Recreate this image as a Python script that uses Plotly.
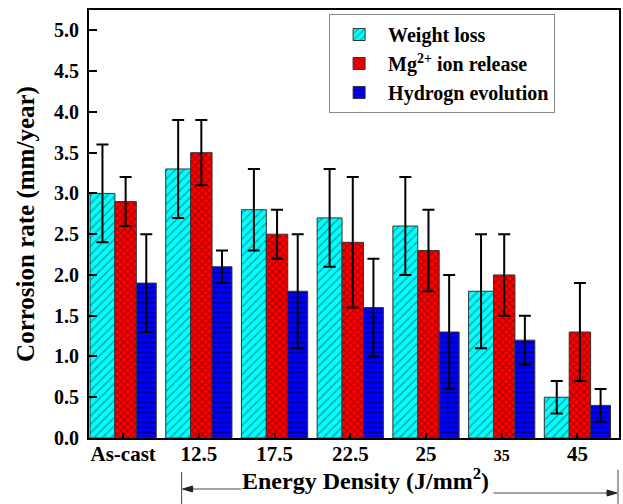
import plotly.graph_objects as go

categories = ["As-cast", "12.5", "17.5", "22.5", "25", "35", "45"]
tick_labels = ["As-cast", "12.5", "17.5", "22.5", "25", "<span style='font-size:16px'>35</span>", "45"]

weight_loss = [3.0, 3.3, 2.8, 2.7, 2.6, 1.8, 0.5]
weight_loss_err = [0.6, 0.6, 0.5, 0.6, 0.6, 0.7, 0.2]

mg_release = [2.9, 3.5, 2.5, 2.4, 2.3, 2.0, 1.3]
mg_release_err = [0.3, 0.4, 0.3, 0.8, 0.5, 0.5, 0.6]

hydrogen = [1.9, 2.1, 1.8, 1.6, 1.3, 1.2, 0.4]
hydrogen_err = [0.6, 0.2, 0.7, 0.6, 0.7, 0.3, 0.2]

xpos = list(range(len(categories)))
FONT = "Liberation Serif"

# plot-area pixel geometry
L, R, T, B = 89, 621, 10, 438
def px(x):
    return (x - L) / (R - L)
def py(y):
    return (B - y) / (B - T)

def bar(name, vals, errs, color, fg, shape, size, sol, offset, width):
    return go.Bar(
        x=xpos, y=vals, name=name, offset=offset, width=width,
        marker=dict(
            color=color,
            line=dict(color="#333333", width=1),
            pattern=dict(shape=shape, bgcolor=color, fgcolor=fg, size=size, solidity=sol),
        ),
        error_y=dict(type="data", array=errs, visible=True, color="black", thickness=2, width=6),
    )

fig = go.Figure()
fig.add_trace(bar("Weight loss", weight_loss, weight_loss_err, "#00FFFF", "#1a5050", "/", 6, 0.25, -0.4375, 0.329))
fig.add_trace(bar("Mg<sup>2+</sup> ion release", mg_release, mg_release_err, "#FF0000", "#300000", "x", 5, 0.35, -0.1086, 0.283))
fig.add_trace(bar("Hydrogn evolution", hydrogen, hydrogen_err, "#0000FF", "#000020", "-", 5, 0.3, 0.1743, 0.263))

fig.update_layout(
    width=623, height=504,
    margin=dict(l=L, r=623 - R, t=T, b=504 - B),
    barmode="overlay",
    plot_bgcolor="white", paper_bgcolor="white",
    font=dict(family=FONT, color="black", weight="bold"),
    legend=dict(
        x=px(330), y=py(14), xanchor="left", yanchor="top",
        bgcolor="white", bordercolor="#888888", borderwidth=1,
        font=dict(family=FONT, size=20, color="black", weight="bold"),
        itemwidth=48,
    ),
    xaxis=dict(
        range=[-0.4507, 6.549], tickvals=xpos, ticktext=tick_labels,
        ticks="inside", ticklen=5, tickwidth=1.5, tickcolor="black",
        showline=True, linecolor="black", linewidth=2, mirror=True,
        showgrid=False, zeroline=False,
        tickfont=dict(family=FONT, size=21, weight="bold"),
        ticklabelstandoff=-4,
    ),
    yaxis=dict(
        range=[0, 5.25], tickvals=[0, 0.5, 1, 1.5, 2, 2.5, 3, 3.5, 4, 4.5, 5],
        ticktext=["0.0", "0.5", "1.0", "1.5", "2.0", "2.5", "3.0", "3.5", "4.0", "4.5", "5.0"],
        ticks="inside", ticklen=8, tickwidth=1.5, tickcolor="black",
        showline=True, linecolor="black", linewidth=2, mirror=True,
        showgrid=False, zeroline=False,
        tickfont=dict(family=FONT, size=20, weight="bold"),
        ticklabelstandoff=4,
        title=dict(text="Corrosion rate (mm/year)", font=dict(family=FONT, size=25, weight="bold"), standoff=12),
    ),
)

# x-axis title (placed slightly right of centre, as in the reference)
fig.add_annotation(xref="paper", yref="paper", x=px(367), y=py(479),
                   xanchor="center", yanchor="middle", showarrow=False,
                   text="Energy Density (J/mm<sup>2</sup>)",
                   font=dict(family=FONT, size=24, color="black", weight="bold"))

# decorative arrows under the axis title
gray = "#444444"
fig.add_shape(type="line", xref="paper", yref="paper",
              x0=px(182), x1=px(182), y0=py(472), y1=py(504), line=dict(color=gray, width=1))
fig.add_shape(type="line", xref="paper", yref="paper",
              x0=px(620), x1=px(620), y0=py(470), y1=py(504), line=dict(color=gray, width=1))
fig.add_shape(type="line", xref="paper", yref="paper",
              x0=px(242), x1=px(186), y0=py(489), y1=py(489), line=dict(color=gray, width=1))
fig.add_shape(type="line", xref="paper", yref="paper",
              x0=px(495), x1=px(616), y0=py(493), y1=py(493), line=dict(color=gray, width=1))
fig.add_shape(type="path", xref="paper", yref="paper",
              path=f"M{px(183)},{py(489)} L{px(193)},{py(486)} L{px(193)},{py(492)} Z",
              fillcolor="#222222", line=dict(color="#222222", width=1))
fig.add_shape(type="path", xref="paper", yref="paper",
              path=f"M{px(619)},{py(493)} L{px(609)},{py(490)} L{px(609)},{py(496)} Z",
              fillcolor="#222222", line=dict(color="#222222", width=1))

fig.write_html("out.html", config={"displayModeBar": False},
               post_script="document.body.style.margin='0';document.body.style.overflow='hidden';")
